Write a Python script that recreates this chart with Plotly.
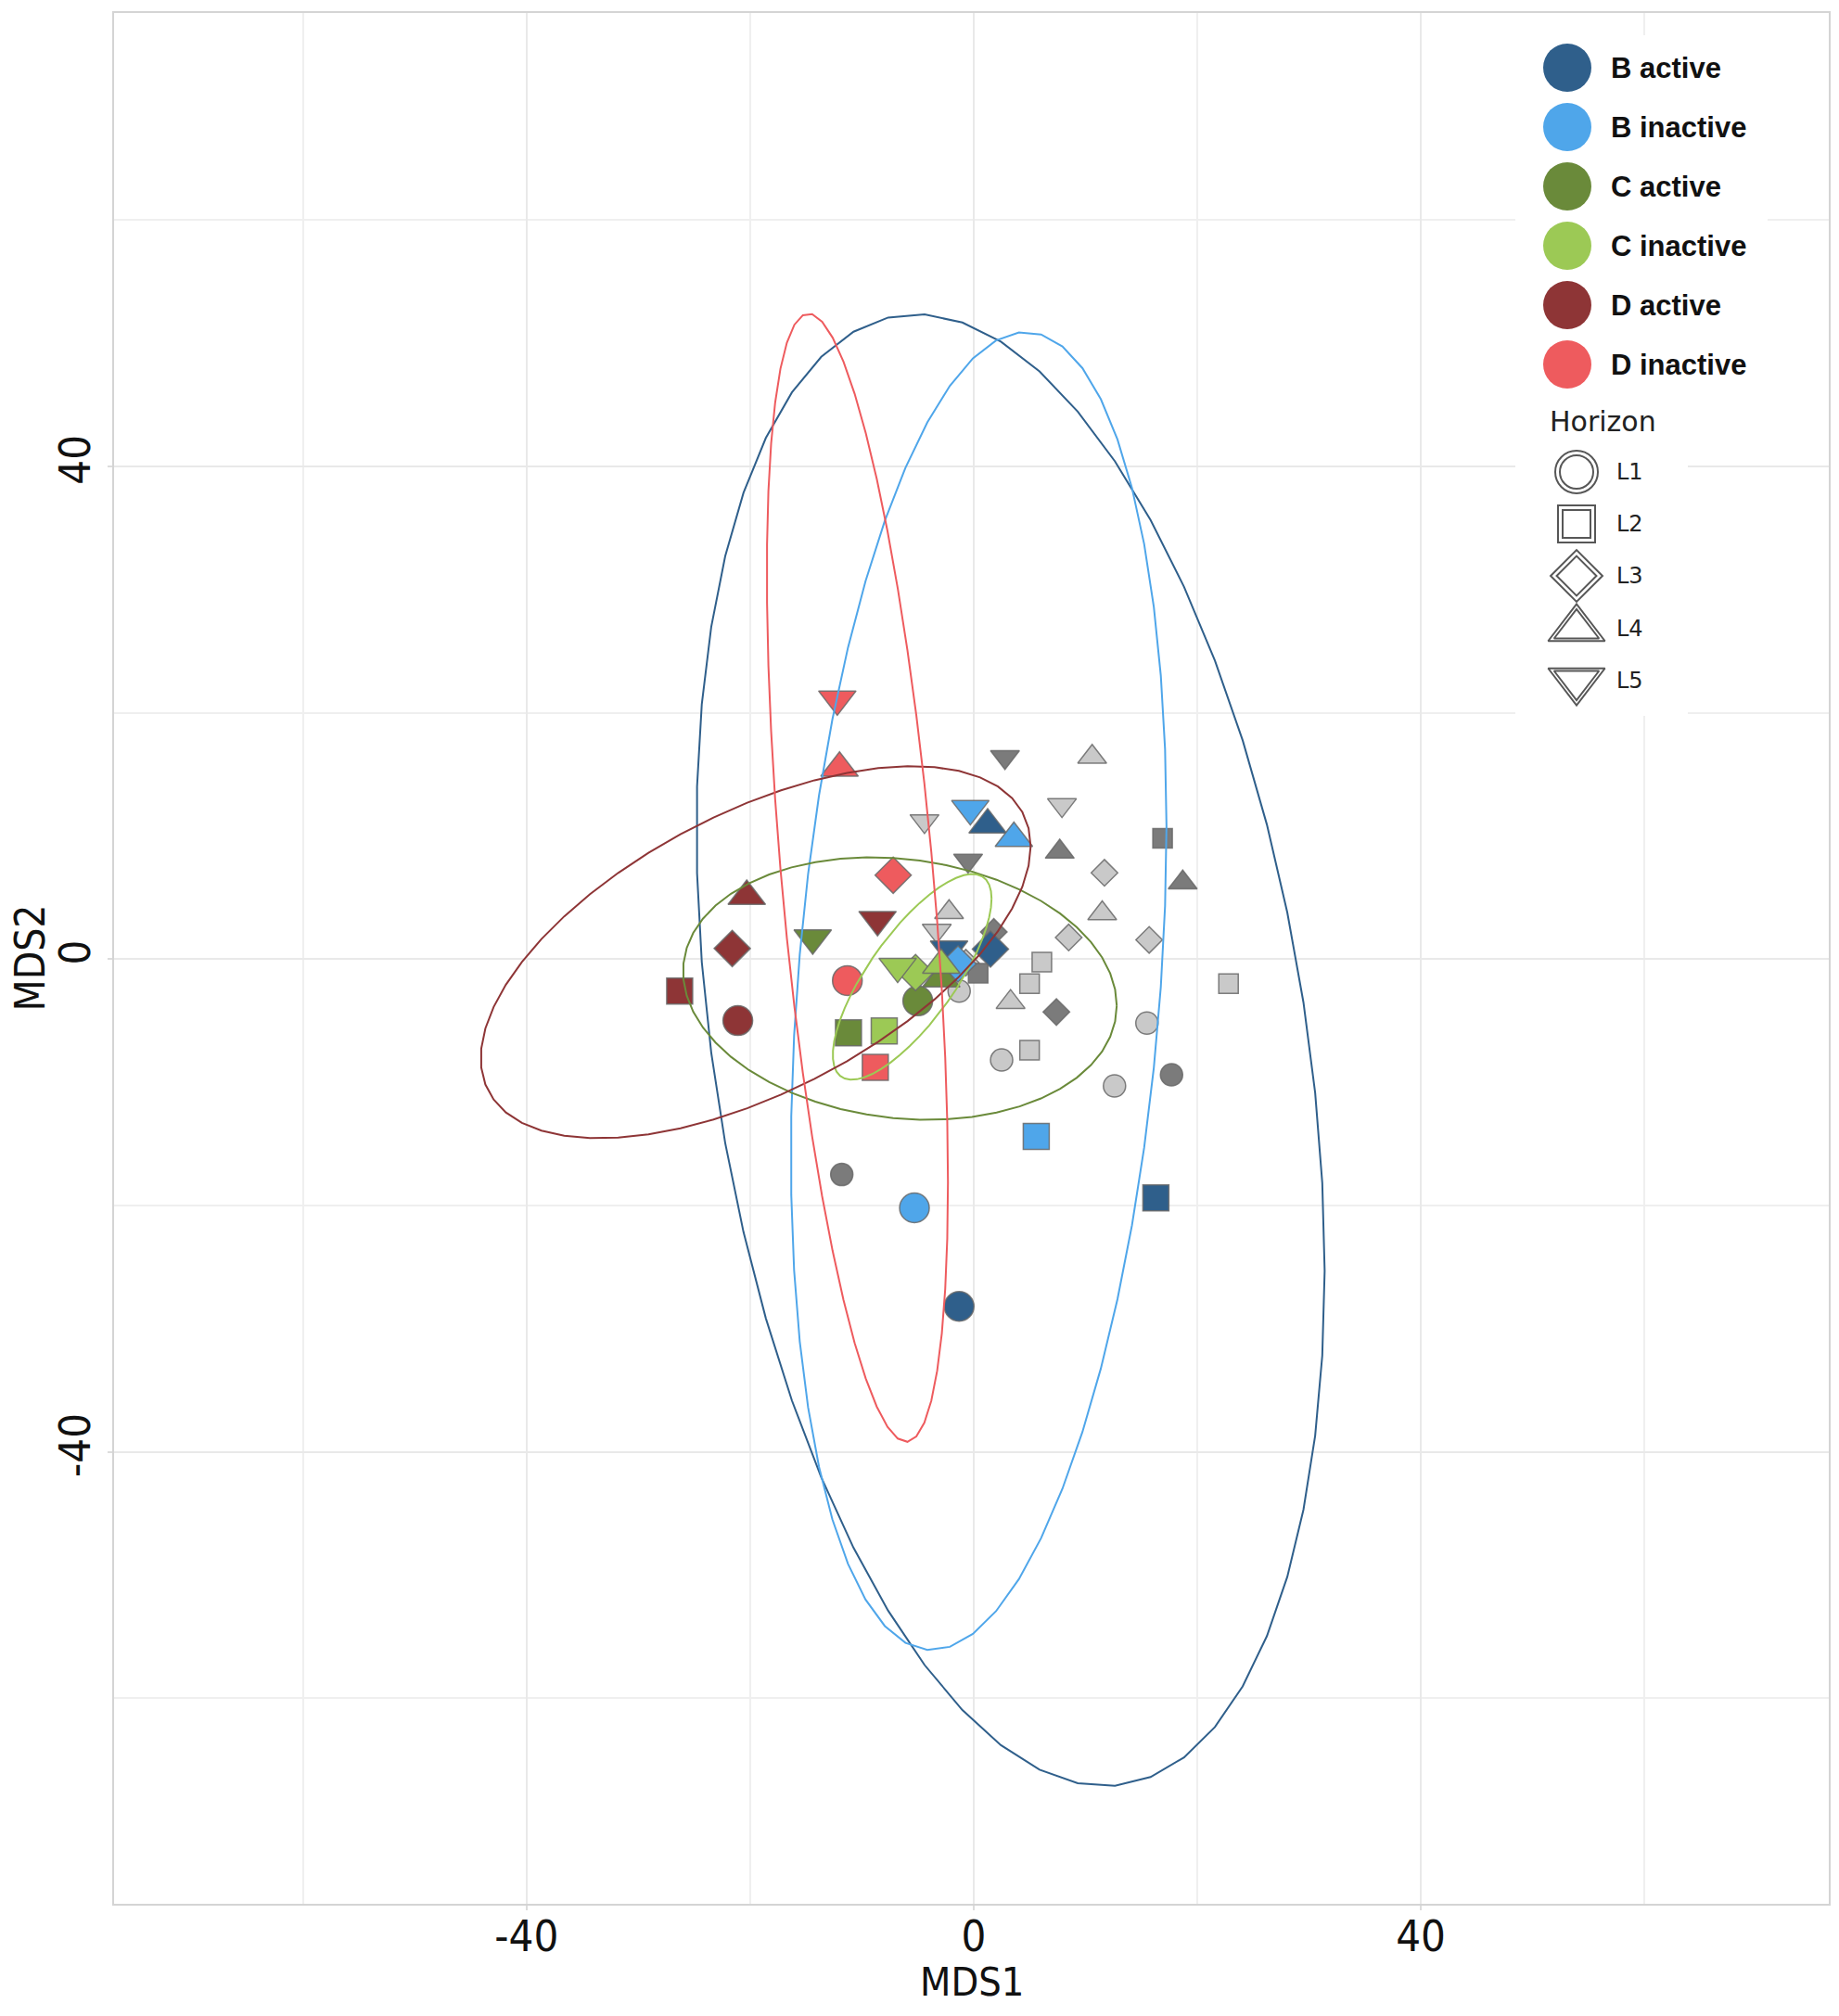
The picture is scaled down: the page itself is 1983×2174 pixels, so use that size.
import numpy as np
import plotly.graph_objects as go

# horizon (soil layer) -> marker shape
horizons = ["L1", "L2", "L3", "L4", "L5"]

group_names = ["B active", "B inactive", "C active", "C inactive", "D active", "D inactive"]
group_colors = ["#2f5f8b", "#4fa6ea", "#6a8a3a", "#9cc955", "#8e3536", "#ee5b5e"]

# MDS scores (x = MDS1, y = MDS2, h = horizon)
b_active_x = [-1.3, 16.3, 1.5, 1.25, -2.2]
b_active_y = [-28.2, -19.4, 0.8, 10.9, 0.8]
b_active_h = ["L1", "L2", "L3", "L4", "L5"]

b_inactive_x = [-5.3, 5.6, -1.4, 3.6, -0.3]
b_inactive_y = [-20.2, -14.4, -0.4, 9.8, 12.2]
b_inactive_h = ["L1", "L2", "L3", "L4", "L5"]

c_active_x = [-5.0, -11.2, -2.9, -14.4]
c_active_y = [-3.4, -6.0, -1.6, 1.7]
c_active_h = ["L1", "L2", "L4", "L5"]

c_inactive_x = [-8.0, -5.2, -2.9, -6.8]
c_inactive_y = [-5.85, -1.1, -0.5, -0.6]
c_inactive_h = ["L2", "L3", "L4", "L5"]

d_active_x = [-21.1, -26.3, -21.6, -20.3, -8.6]
d_active_y = [-5.0, -2.6, 0.85, 5.1, 3.2]
d_active_h = ["L1", "L2", "L3", "L4", "L5"]

d_inactive_x = [-11.3, -8.8, -7.2, -12.0, -12.2]
d_inactive_y = [-1.75, -8.8, 6.8, 15.5, 21.1]
d_inactive_h = ["L1", "L2", "L3", "L4", "L5"]

# samples drawn in grey (not in the legend)
grey_dark_x = [17.7, -11.8, 16.9, 0.4, 1.8, 7.4, 7.7, 18.7, 2.8, -0.5]
grey_dark_y = [-9.4, -17.5, 9.8, -1.15, 2.2, -4.3, 8.7, 6.2, 16.4, 8.0]
grey_dark_h = ["L1", "L1", "L2", "L2", "L3", "L3", "L4", "L4", "L5", "L5"]

grey_light_x = [15.5, 2.5, 12.6, -1.3, 6.1, 5.0, 22.8, 5.0, 11.7, 8.5, 15.7, -0.7,
                10.6, 11.5, 3.3, -2.2, -4.4, 7.9, -3.3]
grey_light_y = [-5.2, -8.2, -10.3, -2.6, -0.25, -2.0, -2.0, -7.4, 7.0, 1.75, 1.55, -0.3,
                16.4, 3.7, -3.5, 3.8, 11.2, 12.5, 2.3]
grey_light_h = ["L1", "L1", "L1", "L1", "L2", "L2", "L2", "L2", "L3", "L3", "L3", "L3",
                "L4", "L4", "L4", "L4", "L5", "L5", "L5"]

# ellipse per group: centre, half width, half height, correlation
ellipse_cx = [3.3, 0.45, -6.6, -5.5, -19.5, -10.4]
ellipse_cy = [-7.4, -2.6, -2.4, -1.45, 0.55, 6.6]
ellipse_w = [28.1, 16.8, 19.4, 7.1, 24.6, 8.1]
ellipse_h = [59.75, 53.5, 10.65, 8.35, 15.1, 45.8]
ellipse_rho = [-0.30, 0.25, -0.13, 0.76, 0.57, -0.54]

x_ticks = [-40, 0, 40]
y_ticks = [-40, 0, 40]
tick_text = ["-40", "0", "40"]
minor_ticks = [-60, -20, 20, 60]

SYMBOL = {"L1": "circle", "L2": "square", "L3": "diamond", "L4": "triangle-up", "L5": "triangle-down"}
BIG = {"L1": 32, "L2": 28, "L3": 30, "L4": 35, "L5": 35}
SMALL = {"L1": 24, "L2": 21, "L3": 22, "L4": 27, "L5": 27}

# the page body has an 8px margin, so the figure is shifted by that much
PAD = 8
PLOT_L, PLOT_R, PLOT_T, PLOT_B = 123, 1972, 14, 2053
FIG_W, FIG_H = 1983 - 2 * PAD, 2174 - 2 * PAD
TICK_FONT = "DejaVu Sans Condensed, DejaVu Sans, sans-serif"


def ellipse(cx, cy, w, h, rho, n=52):
    t = np.linspace(0, 2 * np.pi, n)
    x = cx + w * np.cos(t)
    y = cy + h * (rho * np.cos(t) + np.sqrt(1 - rho ** 2) * np.sin(t))
    return x, y


def points(x, y, h, color, sizes, name):
    return go.Scatter(
        x=x, y=y, mode="markers", name=name, showlegend=False,
        marker=dict(symbol=[SYMBOL[v] for v in h], size=[sizes[v] for v in h],
                    color=color, opacity=1,
                    line=dict(color="rgba(105,105,105,0.85)", width=1.5)),
    )


fig = go.Figure()

fig.add_trace(points(grey_light_x, grey_light_y, grey_light_h, "#c9c9c9", SMALL, "grey light"))
fig.add_trace(points(grey_dark_x, grey_dark_y, grey_dark_h, "#7b7b7b", SMALL, "grey dark"))

group_data = [
    (b_active_x, b_active_y, b_active_h),
    (b_inactive_x, b_inactive_y, b_inactive_h),
    (c_active_x, c_active_y, c_active_h),
    (c_inactive_x, c_inactive_y, c_inactive_h),
    (d_active_x, d_active_y, d_active_h),
    (d_inactive_x, d_inactive_y, d_inactive_h),
]
for (gx, gy, gh), name, color in zip(group_data, group_names, group_colors):
    fig.add_trace(points(gx, gy, gh, color, BIG, name))

for i, color in enumerate(group_colors):
    ex, ey = ellipse(ellipse_cx[i], ellipse_cy[i], ellipse_w[i], ellipse_h[i], ellipse_rho[i])
    fig.add_trace(go.Scatter(x=ex, y=ey, mode="lines", showlegend=False,
                             line=dict(color=color, width=2), hoverinfo="skip"))

# --- hand-made legend, laid out in page pixels on an overlay axis pair ---
for bx0, bx1, by0, by1 in [(1634, 1906, 38, 425), (1634, 1820, 425, 772)]:
    fig.add_trace(go.Scatter(
        x=[bx0, bx1, bx1, bx0, bx0], y=[by0, by0, by1, by1, by0], xaxis="x2", yaxis="y2",
        mode="lines", fill="toself", fillcolor="white", line=dict(width=0),
        showlegend=False, hoverinfo="skip",
    ))

leg_x = 1690
leg_y0, leg_dy = 73, 64
fig.add_trace(go.Scatter(
    x=[leg_x] * len(group_names), y=[leg_y0 + leg_dy * i for i in range(len(group_names))],
    xaxis="x2", yaxis="y2", mode="markers", showlegend=False, hoverinfo="skip",
    marker=dict(size=52, color=group_colors, line=dict(width=0)),
))

key_x = 1700
key_y = [509, 565, 621, 678, 734]
outer = {"L1": 46, "L2": 40, "L3": 43, "L4": 53, "L5": 53}
inner = {"L1": 36, "L2": 30, "L3": 33, "L4": 42, "L5": 42}
for sizes in (outer, inner):
    fig.add_trace(go.Scatter(
        x=[key_x] * len(horizons), y=key_y, xaxis="x2", yaxis="y2", mode="markers",
        showlegend=False, hoverinfo="skip",
        marker=dict(symbol=[SYMBOL[h] for h in horizons], size=[sizes[h] for h in horizons],
                    color="white", line=dict(color="#111111", width=2)),
    ))

annotations = []
for i, name in enumerate(group_names):
    annotations.append(dict(x=1735, y=leg_y0 + leg_dy * i, xref="x2", yref="y2", text=name,
                            showarrow=False, xanchor="left", yanchor="middle",
                            font=dict(family="Liberation Sans, Arial, sans-serif", size=31,
                                      color="#111111", weight="bold")))
annotations.append(dict(x=1669, y=454, xref="x2", yref="y2", text="Horizon", showarrow=False,
                        xanchor="left", yanchor="middle",
                        font=dict(family="DejaVu Sans", size=30, color="#222222")))
for h, yy in zip(horizons, key_y):
    annotations.append(dict(x=1741, y=yy, xref="x2", yref="y2", text=h, showarrow=False,
                            xanchor="left", yanchor="middle",
                            font=dict(family="DejaVu Sans", size=24, color="#222222")))

# axis titles
plot_w, plot_h = PLOT_R - PLOT_L, PLOT_B - PLOT_T
annotations.append(dict(x=0.5, y=-(2137 - PLOT_B) / plot_h, xref="paper", yref="paper",
                        text="MDS1", showarrow=False, xanchor="center", yanchor="middle",
                        font=dict(family=TICK_FONT, size=43, color="#111111")))
annotations.append(dict(x=-(PLOT_L - 32) / plot_w, y=0.5, xref="paper", yref="paper",
                        text="MDS2", showarrow=False, textangle=-90, xanchor="center",
                        yanchor="middle", font=dict(family=TICK_FONT, size=44, color="#111111")))

axis_common = dict(
    showgrid=True, gridcolor="#e9e9e9", gridwidth=2, zeroline=False,
    showline=True, linecolor="#d4d4d4", linewidth=2, mirror=True,
    ticks="outside", ticklen=5, tickcolor="#dcdcdc", tickwidth=2,
    tickmode="array", ticktext=tick_text,
    tickfont=dict(family=TICK_FONT, size=47, color="#111111"),
    minor=dict(tickvals=minor_ticks, showgrid=True, gridcolor="#efefef", gridwidth=2, ticks=""),
    automargin=False,
)

fig.update_layout(
    width=FIG_W, height=FIG_H,
    margin=dict(l=PLOT_L - PAD, r=FIG_W + PAD - PLOT_R, t=PLOT_T - PAD, b=FIG_H + PAD - PLOT_B),
    paper_bgcolor="white", plot_bgcolor="white",
    showlegend=False,
    xaxis=dict(range=[-76.9, 76.5], tickvals=x_ticks, ticklabelstandoff=-12, **axis_common),
    yaxis=dict(range=[-76.7, 76.8], tickvals=y_ticks, tickangle=-90, **axis_common),
    xaxis2=dict(overlaying="x", range=[PLOT_L, PLOT_R], visible=False, anchor="y2"),
    yaxis2=dict(overlaying="y", range=[PLOT_B, PLOT_T], visible=False, anchor="x2"),
    annotations=annotations,
)

fig.write_html("out.html")
